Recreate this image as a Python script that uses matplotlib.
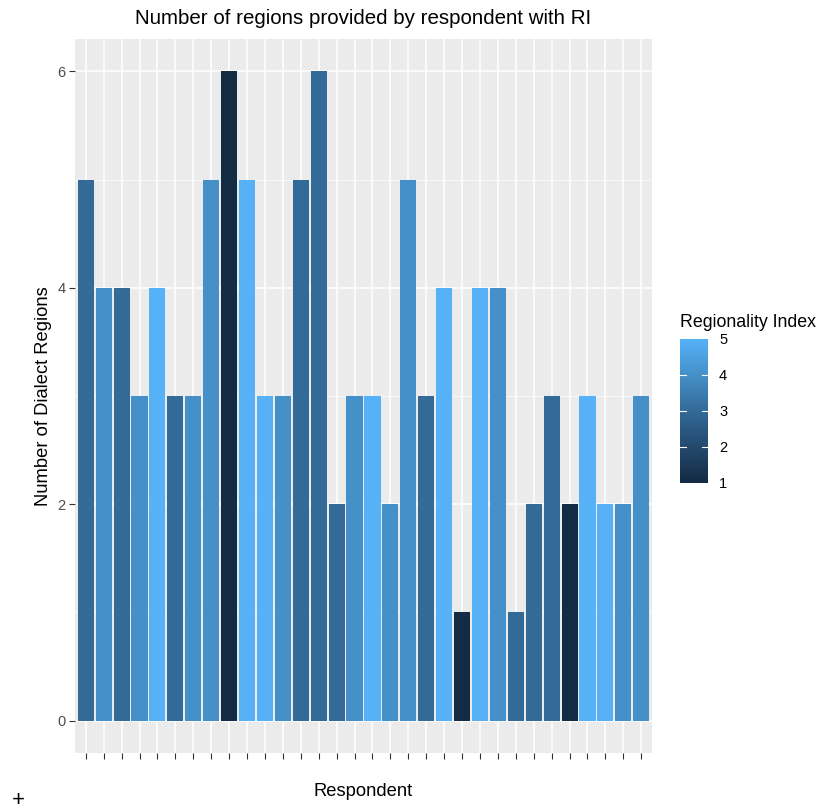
import numpy as np
import matplotlib
matplotlib.use("Agg")
import matplotlib.pyplot as plt
from matplotlib.colors import LinearSegmentedColormap, Normalize
from matplotlib.ticker import MultipleLocator

plt.rcParams['font.family'] = ['Liberation Sans', 'DejaVu Sans']

# data
respondents = list(range(1, 33))
n_regions = [5, 4, 4, 3, 4, 3, 3, 5, 6, 5, 3, 3, 5, 6, 2, 3,
             3, 2, 5, 3, 4, 1, 4, 4, 1, 2, 3, 2, 3, 2, 2, 3]
regionality = [3, 4, 3, 4, 5, 3, 4, 4, 1, 5, 5, 4, 3, 3, 3, 4,
               5, 4, 4, 3, 5, 1, 5, 4, 3, 3, 3, 1, 5, 5, 4, 4]
ri_ticks = [1, 2, 3, 4, 5]

# ggplot-like default continuous blue gradient
cmap = LinearSegmentedColormap.from_list(
    "gg_blue", ["#132B43", "#24496E", "#336A98", "#4590C8", "#56B1F7"])
norm = Normalize(1, 5)

W, H = 821, 811
fig = plt.figure(figsize=(W / 100, H / 100), dpi=100)
ax = fig.add_axes([75 / W, 1 - 753 / H, (652 - 75) / W, (753 - 39) / H])
ax.set_facecolor("#EBEBEB")

ax.bar(respondents, n_regions, width=0.9, color=cmap(norm(regionality)), zorder=3)

# discrete x scale with ggplot's 0.6 expansion, y with 5% expansion
ax.set_xlim(0.4, 32.6)
ax.set_ylim(-0.3, 6.3)
ax.yaxis.set_major_locator(MultipleLocator(2))
ax.yaxis.set_minor_locator(MultipleLocator(1))
ax.set_xticks(respondents)
ax.set_xticklabels([])

ax.grid(which="major", color="white", linewidth=1.1, zorder=0)
ax.grid(which="minor", axis="y", color="white", linewidth=0.5, zorder=0)
for s in ax.spines.values():
    s.set_visible(False)
ax.tick_params(which="major", length=4, color="#333333", labelsize=10.5,
               labelcolor="#4D4D4D", width=0.8, pad=3)
ax.tick_params(which="minor", length=0)

fig.text(363.5 / W, 1 - 18 / H, "Number of regions provided by respondent with RI",
         fontsize=14.8, ha="center", va="center")
fig.text(44 / W, 1 - 396 / H, "Number of Dialect Regions", fontsize=13.2,
         rotation=90, ha="center", va="center")
fig.text(363.5 / W, 1 - 791 / H, "Respondent", fontsize=13.2,
         ha="center", va="center")

# colour legend
cax = fig.add_axes([680 / W, 1 - 483 / H, 28 / W, 144 / H])
grad = np.linspace(1, 5, 200).reshape(-1, 1)
cax.imshow(grad, aspect="auto", cmap=cmap, norm=norm, origin="lower",
           extent=[0, 1, 1, 5])
cax.set_xlim(0, 1)
cax.set_ylim(1, 5)
for t in ri_ticks[1:-1]:
    cax.plot([0, 0.2], [t, t], color="white", linewidth=0.8)
    cax.plot([0.8, 1], [t, t], color="white", linewidth=0.8)
cax.set_xticks([])
cax.yaxis.tick_right()
cax.set_yticks(ri_ticks)
cax.tick_params(axis="y", length=0, labelsize=10.5, pad=8)
for s in cax.spines.values():
    s.set_visible(False)
fig.text(680 / W, 1 - 323 / H, "Regionality Index", fontsize=12.8,
         ha="left", va="center")

fig.text(18 / W, 1 - 800 / H, "+", fontsize=16, ha="center", va="center")

fig.savefig("out.png", dpi=100)
